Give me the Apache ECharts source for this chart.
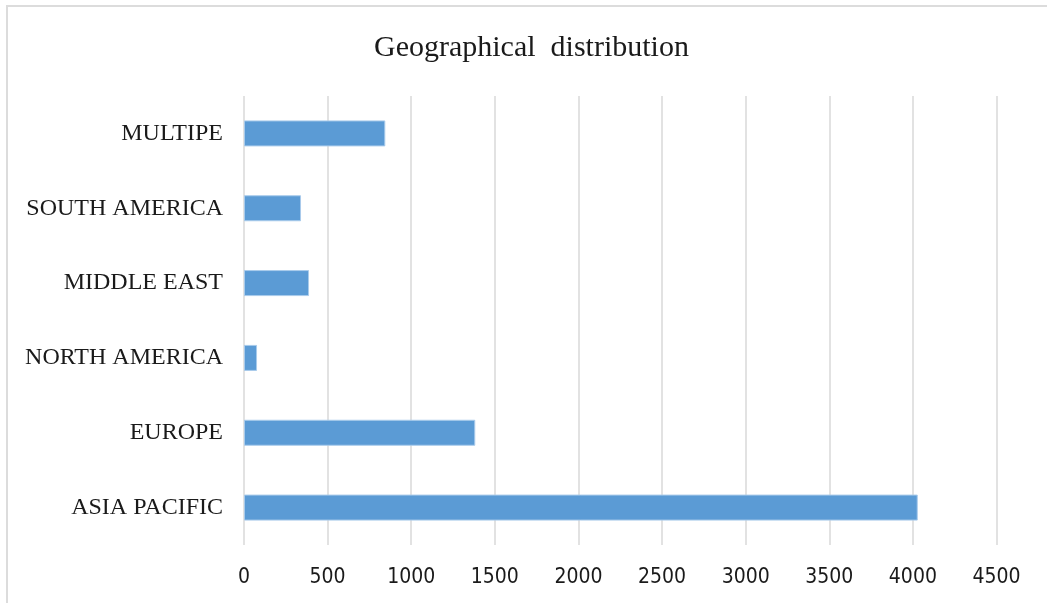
<!DOCTYPE html>
<html>
<head>
<meta charset="utf-8">
<script src="https://cdn.jsdelivr.net/npm/echarts@6/dist/echarts.min.js"></script>
<style>
  html, body { margin: 0; padding: 0; background: #ffffff; }
  #chart { width: 1047px; height: 603px; }
</style>
</head>
<body>
<div id="chart"></div>
<script>
// Regions, listed bottom to top as they appear on the category axis
const regions = ['ASIA PACIFIC', 'EUROPE', 'NORTH AMERICA', 'MIDDLE EAST', 'SOUTH AMERICA', 'MULTIPE'];
const counts = [4029, 1383, 78, 389, 341, 845];
const xTicks = [0, 4500, 500]; // min, max, interval

const chart = echarts.init(document.getElementById('chart'), null, { renderer: 'canvas' });

chart.setOption({
  backgroundColor: '#ffffff',
  animation: false,
  title: {
    text: 'Geographical  distribution',
    left: 369,
    top: 28,
    textStyle: {
      fontFamily: 'Liberation Serif',
      fontWeight: 'normal',
      fontSize: 30,
      color: '#1a1a1a'
    }
  },
  grid: { left: 244, right: 50.5, top: 96, bottom: 58, containLabel: false },
  xAxis: {
    type: 'value',
    min: xTicks[0],
    max: xTicks[1],
    interval: xTicks[2],
    axisLine: { show: false },
    axisTick: { show: false },
    splitLine: { show: true, lineStyle: { color: '#d9d9d9', width: 1.5 } },
    axisLabel: {
      margin: 22,
      formatter: (v) => String(v),
      fontFamily: 'DejaVu Sans Condensed, DejaVu Sans',
      fontSize: 21,
      color: '#1a1a1a'
    }
  },
  yAxis: {
    type: 'category',
    data: regions,
    axisLine: { show: false },
    axisTick: { show: false },
    axisLabel: {
      margin: 21,
      fontFamily: 'Liberation Serif',
      fontSize: 24,
      color: '#1a1a1a'
    }
  },
  series: [{
    type: 'bar',
    data: counts,
    barWidth: 26,
    itemStyle: {
      color: '#5b9bd5',
      borderColor: '#a9cbeb',
      borderWidth: 1
    }
  }],
  graphic: [
    {
      type: 'polyline',
      shape: { points: [[7, 603], [7, 6], [1047, 6]] },
      style: { stroke: '#dcdcdc', lineWidth: 2, fill: null },
      silent: true
    }
  ]
});
</script>
</body>
</html>
